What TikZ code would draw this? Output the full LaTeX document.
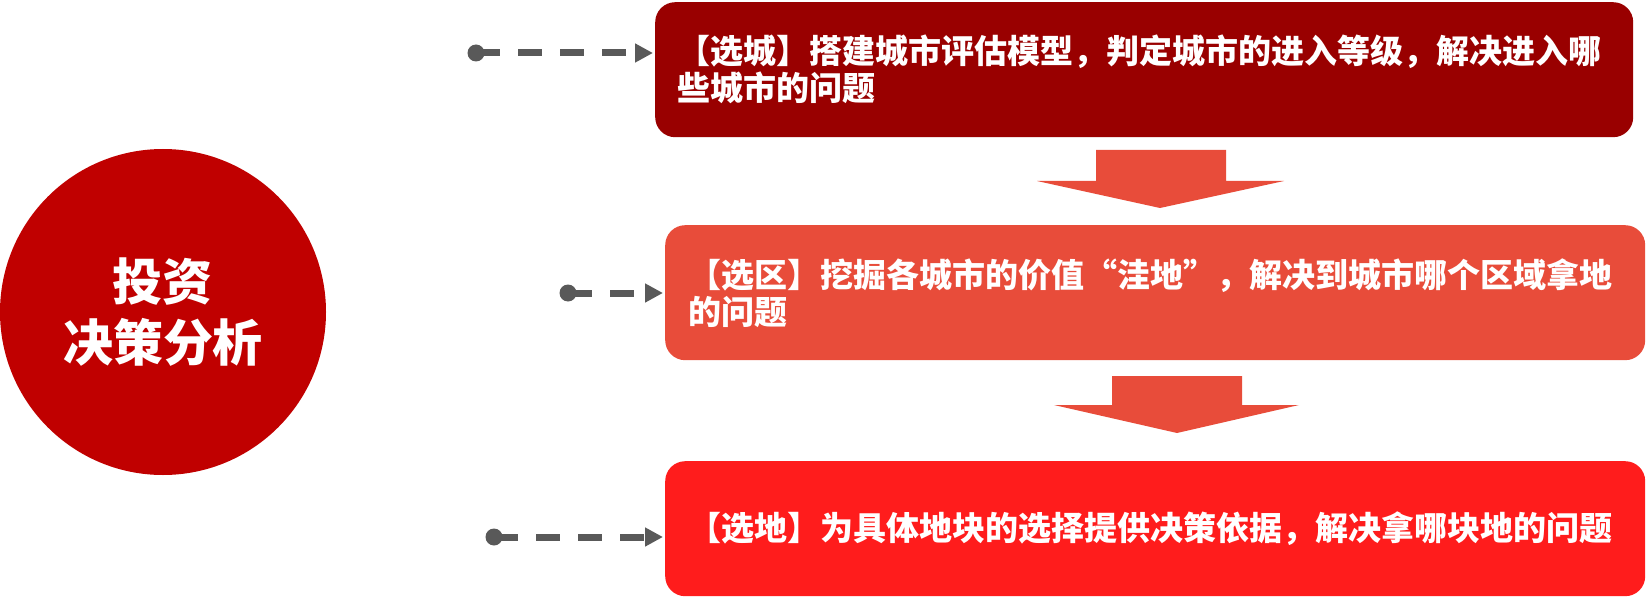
\documentclass[tikz,border=0pt]{standalone}
\usepackage{fontspec}
\setmainfont{Noto Sans CJK SC}
\usetikzlibrary{arrows.meta}
\definecolor{boxA}{HTML}{990000}
\definecolor{boxB}{HTML}{E84C3A}
\definecolor{boxC}{HTML}{FF1C1C}
\definecolor{circ}{HTML}{C00000}
\definecolor{grayd}{HTML}{595959}
\begin{document}
\begin{tikzpicture}[x=1pt,y=-1pt,
  box/.style={rounded corners=20pt, inner xsep=23pt, inner ysep=0pt,
    minimum height=135pt, text width=934pt, align=left, text=white,
    font=\bfseries\fontsize{33}{37}\selectfont, anchor=north west},
  dotn/.style={circle, fill=grayd, inner sep=0pt, minimum size=17pt},
  link/.style={draw=grayd, line width=7pt, dash pattern=on 24pt off 18pt,
    shorten >=2pt, -{Triangle[length=18pt,width=18pt]}},
  downarrow/.style={fill=boxB}
]
\useasboundingbox (0,0) rectangle (1647,599);

% central circle
\node[circle, fill=circ, minimum size=326pt, inner sep=0pt, text=white,
  font=\bfseries\fontsize{50}{61}\selectfont, align=center] (c) at (163,312)
  {投资\\决策分析};

% boxes
\node[box, fill=boxA, inner xsep=22pt] (b1) at (655,2)
  {【选城】搭建城市评估模型，判定城市的进入等级，解决进入哪\\些城市的问题};
\node[box, fill=boxB] (b2) at (665,225)
  {【选区】挖掘各城市的价值“洼地”，解决到城市哪个区域拿地\\的问题};
\node[box, fill=boxC] (b3) at (665,461)
  {【选地】为具体地块的选择提供决策依据，解决拿哪块地的问题};

% dashed connectors
\node[dotn] (d1) at (476,53) {};
\node[dotn] (d2) at (568,293) {};
\node[dotn] (d3) at (494,537) {};
\draw[link] (d1.center) -- (b1.west |- d1);
\draw[link] (d2.center) -- (b2.west |- d2);
\draw[link] (d3.center) -- (b3.west |- d3);

% block arrows between boxes
\fill[downarrow] (1096,150) -- (1226,150) -- (1226,181) -- (1284,181)
  -- (1160,208) -- (1037,181) -- (1096,181) -- cycle;
\fill[downarrow] (1112,376) -- (1242,376) -- (1242,405) -- (1299,405)
  -- (1177,433) -- (1054,405) -- (1112,405) -- cycle;
\end{tikzpicture}
\end{document}
